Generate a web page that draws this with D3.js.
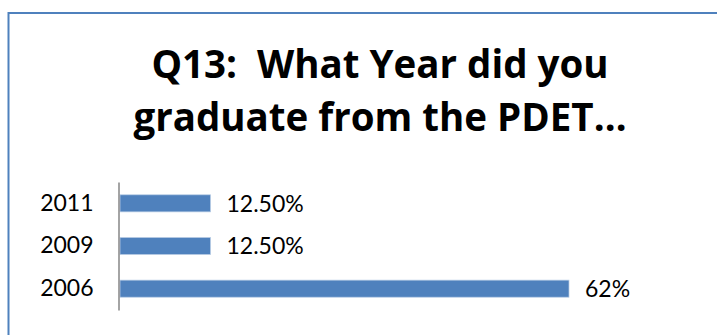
<!DOCTYPE html>
<html>
<head>
<meta charset="utf-8">
<script src="https://cdn.jsdelivr.net/npm/d3@7"></script>
<style>
  html, body { margin: 0; padding: 0; background: #fff; }
  svg { display: block; }
  .title { white-space: pre; }
</style>
</head>
<body>
<script>
// Survey answers: year of graduation and share of respondents
const years = ["2011", "2009", "2006"];
const shares = [12.5, 12.5, 62];
const valueLabels = ["12.50%", "12.50%", "62%"];
const titleLines = ["Q13:  What Year did you", "graduate from the PDET\u2026"];

const W = 717, H = 335;
const svg = d3.select("body").append("svg").attr("width", W).attr("height", H);

// Outer frame (runs off the right and bottom edges)
svg.append("rect")
  .attr("x", 8.5).attr("y", 13)
  .attr("width", 760).attr("height", 360)
  .attr("fill", "#fff")
  .attr("stroke", "#4F81BD")
  .attr("stroke-width", 2);

// Title
svg.append("g")
  .selectAll("text")
  .data(titleLines)
  .join("text")
  .attr("class", "title")
  .attr("x", 380)
  .attr("y", (d, i) => 78 + i * 53)
  .attr("text-anchor", "middle")
  .attr("font-family", "'Open Sans', Lato, sans-serif")
  .attr("font-weight", "bold")
  .attr("font-size", 38.5)
  .attr("fill", "#000")
  .text(d => d);

const y = d3.scaleBand()
  .domain(years)
  .range([182, 310])
  .paddingInner(0.6)
  .paddingOuter(0.3);

const x = d3.scaleLinear()
  .domain([0, 62])
  .range([120, 569]);

// Bars
svg.append("g")
  .selectAll("rect")
  .data(years)
  .join("rect")
  .attr("x", x(0))
  .attr("y", d => y(d))
  .attr("width", (d, i) => x(shares[i]) - x(0))
  .attr("height", y.bandwidth())
  .attr("fill", "#4F81BD")
  .attr("stroke", "#B9CDE5")
  .attr("stroke-width", 0.75);

// Category axis
const yAxis = svg.append("g")
  .attr("transform", `translate(${x(0) - 1.5},0)`)
  .call(d3.axisLeft(y).tickSize(0).tickPadding(25));
yAxis.select(".domain").attr("stroke", "#868686").attr("stroke-width", 1.5);
yAxis.selectAll("text")
  .attr("font-family", "Lato, 'Open Sans', sans-serif")
  .attr("font-size", 23)
  .attr("fill", "#000");

// Value labels
svg.append("g")
  .selectAll("text")
  .data(years)
  .join("text")
  .attr("x", (d, i) => x(shares[i]) + 16)
  .attr("y", d => y(d) + y.bandwidth() / 2)
  .attr("dy", "0.36em")
  .attr("font-family", "Lato, 'Open Sans', sans-serif")
  .attr("font-size", 23)
  .attr("fill", "#000")
  .text((d, i) => valueLabels[i]);
</script>
</body>
</html>
